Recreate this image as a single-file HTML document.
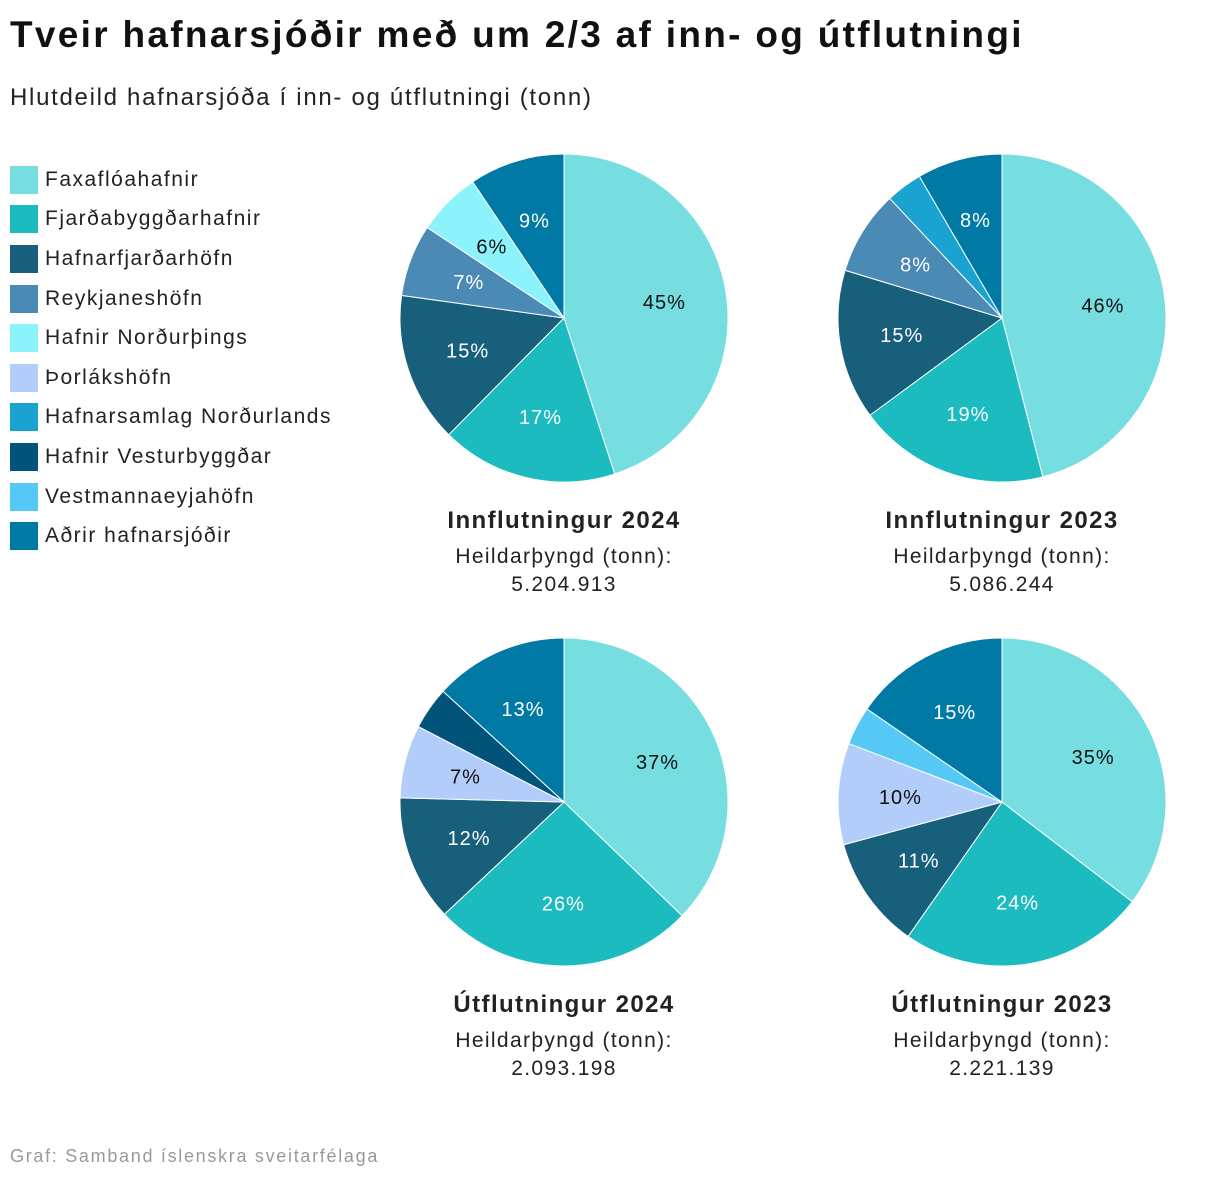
<!DOCTYPE html>
<html><head><meta charset="utf-8"><style>
body{margin:0;width:1220px;height:1180px;background:#fff;font-family:"Liberation Sans",sans-serif;position:relative;overflow:hidden}
h1{position:absolute;left:10px;top:14px;margin:0;font-size:37px;font-weight:bold;color:#111;letter-spacing:2.3px;white-space:nowrap}
.sub{position:absolute;left:10px;top:84px;font-size:24px;color:#222;letter-spacing:1.7px;white-space:nowrap}
.leg{position:absolute;left:10px;top:160px}
.li{height:39.6px;display:flex;align-items:center;font-size:21px;color:#222;letter-spacing:1.5px;white-space:nowrap}
.sw{width:28px;height:28px;margin-right:7px}
.src{position:absolute;left:10px;top:1146px;font-size:18px;color:#999;letter-spacing:1.7px;white-space:nowrap}
</style></head><body>
<h1>Tveir hafnarsjóðir með um 2/3 af inn- og útflutningi</h1>
<div class="sub">Hlutdeild hafnarsjóða í inn- og útflutningi (tonn)</div>
<div class="leg" id="leg"></div>
<svg id="svg" width="1220" height="1180" style="position:absolute;left:0;top:0"></svg>
<div class="src">Graf: Samband íslenskra sveitarfélaga</div>
<script>
const categories=["Faxaflóahafnir","Fjarðabyggðarhafnir","Hafnarfjarðarhöfn","Reykjaneshöfn","Hafnir Norðurþings","Þorlákshöfn","Hafnarsamlag Norðurlands","Hafnir Vesturbyggðar","Vestmannaeyjahöfn","Aðrir hafnarsjóðir"];
const colors=["#76dde0","#1bbbbf","#175f7a","#4a8ab5","#8cf3fc","#b3cdfb","#1aa3d0","#02537a","#55c8f5","#0079a5"];
const darkText=[true,false,false,false,true,true,false,false,true,false];
const titles=["Innflutningur 2024","Innflutningur 2023","Útflutningur 2024","Útflutningur 2023"];
const totals=["5.204.913","5.086.244","2.093.198","2.221.139"];
const inn2024=[45,17.4,14.8,7.1,6.3,0,0,0,0,9.4];
const inn2023=[46,18.9,14.8,8.3,0,0,3.6,0,0,8.4];
const ut2024=[37.2,25.8,12.4,0,0,7.2,0,4.2,0,13.2];
const ut2023=[35.4,24.3,11.1,0,0,10,0,0,3.8,15.4];
const series=[inn2024,inn2023,ut2024,ut2023];
const centers=[[564,318],[1002,318],[564,802],[1002,802]];
const R=164,NS="http://www.w3.org/2000/svg";
const leg=document.getElementById('leg');
categories.forEach((c,i)=>{const d=document.createElement('div');d.className='li';


d.innerHTML='<div class="sw" style="background:'+colors[i]+'"></div>'+c;leg.appendChild(d);});
const svg=document.getElementById('svg');
function pt(cx,cy,r,a){return [cx+r*Math.sin(a),cy-r*Math.cos(a)];}
function txt(x,y,s,size,fill,weight,ls){const t=document.createElementNS(NS,'text');t.setAttribute('x',x);t.setAttribute('y',y);t.setAttribute('text-anchor','middle');t.setAttribute('font-size',size);t.setAttribute('fill',fill);t.setAttribute('font-family','Liberation Sans, sans-serif');t.setAttribute('letter-spacing',ls||0);if(weight)t.setAttribute('font-weight',weight);t.textContent=s;svg.appendChild(t);return t;}
series.forEach((vals,k)=>{const [cx,cy]=centers[k];const tot=vals.reduce((a,b)=>a+b,0);let a0=0;
vals.forEach((v,i)=>{if(!v)return;const a1=a0+v/tot*2*Math.PI;const p0=pt(cx,cy,R,a0),p1=pt(cx,cy,R,a1);
const p=document.createElementNS(NS,'path');p.setAttribute('d',`M${cx},${cy}L${p0[0]},${p0[1]}A${R},${R} 0 ${a1-a0>Math.PI?1:0} 1 ${p1[0]},${p1[1]}Z`);
p.setAttribute('fill',colors[i]);p.setAttribute('stroke','#fff');p.setAttribute('stroke-width','1');


svg.appendChild(p);
if(v>=5.5){const m=pt(cx,cy,R*0.62,(a0+a1)/2);const t=txt(m[0],m[1]+7,Math.round(v)+'%',20,darkText[i]?'#111':'#fff',null,1);

}
a0=a1;});
const t1=txt(cx,cy+210,titles[k],24,'#222','bold',1.4);


const t2=txt(cx,cy+245,'Heildarþyngd (tonn):',21,'#222',null,1.35);


const t3=txt(cx,cy+273,totals[k],21,'#222',null,1.35);


});
</script>
</body></html>
